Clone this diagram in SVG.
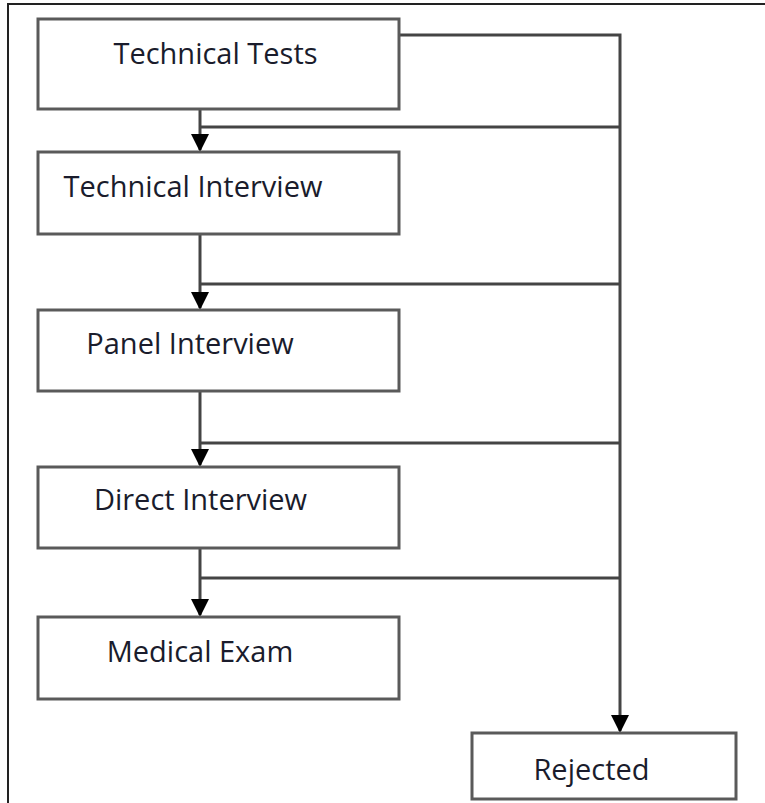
<svg xmlns="http://www.w3.org/2000/svg" width="765" height="803" viewBox="0 0 765 803">
  <style>
    .box { fill: #ffffff; stroke: #5a5a5a; stroke-width: 3; }
    .label { font-family: "Open Sans", "Liberation Sans", sans-serif; font-size: 29px; fill: #1a1c2c; text-anchor: middle; }
    .wire { fill: none; stroke: #444444; stroke-width: 3; }
    .flow { marker-end: url(#arrow); }
    .frame { fill: none; stroke: #222222; stroke-width: 2; }
  </style>
  <defs>
    <!-- filled triangular head, tip 2px beyond the line end -->
    <marker id="arrow" viewBox="0 0 18 18" refX="16" refY="9" markerWidth="18" markerHeight="18" markerUnits="userSpaceOnUse" orient="auto">
      <path d="M0 0 L18 9 L0 18 Z" fill="#000000"/>
    </marker>
  </defs>

  <rect width="765" height="803" fill="#ffffff"/>
  <!-- page frame: only top and left edges fall inside the canvas -->
  <path class="frame" d="M8 810 L8 4 L770 4"/>

  <g id="connectors">
    <!-- main flow down the left column -->
    <line class="wire flow" x1="200" y1="109" x2="200" y2="150"/>
    <line class="wire flow" x1="200" y1="234" x2="200" y2="308"/>
    <line class="wire flow" x1="200" y1="391" x2="200" y2="465"/>
    <line class="wire flow" x1="200" y1="548" x2="200" y2="615"/>
    <!-- rejection bus on the right -->
    <path class="wire flow" d="M400 35 L620 35 L620 731"/>
    <line class="wire" x1="200" y1="127" x2="620" y2="127"/>
    <line class="wire" x1="200" y1="284" x2="620" y2="284"/>
    <line class="wire" x1="200" y1="443" x2="620" y2="443"/>
    <line class="wire" x1="200" y1="578" x2="620" y2="578"/>
  </g>

  <g id="technical-tests">
    <rect class="box" x="38" y="19" width="361" height="90"/>
    <text class="label" x="215.5" y="64">Technical Tests</text>
  </g>
  <g id="technical-interview">
    <rect class="box" x="38" y="152" width="361" height="82"/>
    <text class="label" x="193" y="197">Technical Interview</text>
  </g>
  <g id="panel-interview">
    <rect class="box" x="38" y="310" width="361" height="81"/>
    <text class="label" x="190" y="354">Panel Interview</text>
  </g>
  <g id="direct-interview">
    <rect class="box" x="38" y="467" width="361" height="81"/>
    <text class="label" x="200.5" y="510">Direct Interview</text>
  </g>
  <g id="medical-exam">
    <rect class="box" x="38" y="617" width="361" height="82"/>
    <text class="label" x="200" y="662">Medical Exam</text>
  </g>
  <g id="rejected">
    <rect class="box" x="472" y="733" width="264" height="66"/>
    <text class="label" x="591.5" y="780">Rejected</text>
  </g>
</svg>
